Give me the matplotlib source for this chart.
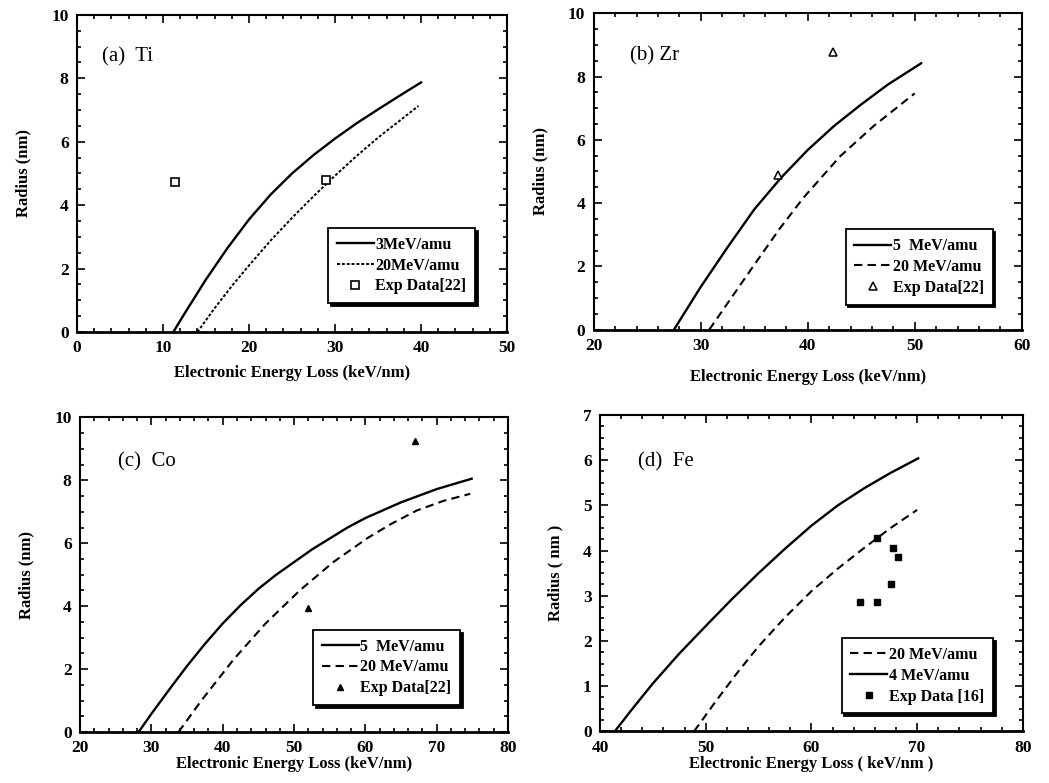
import matplotlib
matplotlib.use("Agg")
import matplotlib.pyplot as plt
from matplotlib.ticker import MultipleLocator, AutoMinorLocator

plt.rcParams['font.family'] = ['Liberation Serif', 'DejaVu Serif']
plt.rcParams['font.weight'] = 'bold'

# (a) Ti
ti_solid_x = [11.2, 12.5, 15, 17.5, 20, 22.5, 25, 27.5, 30, 32.5, 35, 37.5, 40]
ti_solid_y = [0, 0.58, 1.66, 2.65, 3.55, 4.33, 5.0, 5.58, 6.1, 6.58, 7.02, 7.45, 7.87]
ti_dot_x = [14, 16, 18, 20, 22.5, 25, 27.5, 30, 32.5, 35, 37.5, 39.7]
ti_dot_y = [0, 0.75, 1.45, 2.1, 2.88, 3.6, 4.28, 4.93, 5.55, 6.13, 6.66, 7.13]
ti_exp_x = [11.4, 28.9]
ti_exp_y = [4.73, 4.78]

# (b) Zr
zr_solid_x = [27.5, 30, 32.5, 35, 37.5, 40, 42.5, 45, 47.5, 50.6]
zr_solid_y = [0, 1.35, 2.6, 3.8, 4.8, 5.68, 6.45, 7.12, 7.75, 8.42]
zr_dash_x = [30.8, 32.5, 34.9, 37.4, 39.6, 43.0, 46.1, 50.0]
zr_dash_y = [0, 0.83, 2.0, 3.2, 4.17, 5.47, 6.42, 7.47]
zr_exp_x = [42.4, 37.2]
zr_exp_y = [8.79, 4.9]

# (c) Co
co_solid_x = [28.2, 30, 32.5, 35, 37.5, 40, 42.5, 45, 47.5, 50, 52.5, 55, 57.5, 60, 65, 70, 74.9]
co_solid_y = [0, 0.58, 1.35, 2.1, 2.8, 3.45, 4.03, 4.55, 5.0, 5.4, 5.8, 6.15, 6.5, 6.8, 7.3, 7.72, 8.05]
co_dash_x = [33.8, 37, 41.5, 46, 50.8, 55.5, 60.2, 63.5, 67.2, 71, 74.7]
co_dash_y = [0, 1.0, 2.3, 3.45, 4.5, 5.4, 6.15, 6.6, 7.04, 7.35, 7.57]
co_exp_x = [66.9, 52.0]
co_exp_y = [9.26, 3.93]

# (d) Fe
fe_solid_x = [41.4, 43, 45, 47.5, 50, 52.5, 55, 57.5, 60, 62.5, 65, 67.5, 70.1]
fe_solid_y = [0, 0.48, 1.06, 1.72, 2.33, 2.93, 3.5, 4.04, 4.55, 5.0, 5.38, 5.72, 6.04]
fe_dash_x = [48.9, 51, 53, 55, 57.5, 60, 62.5, 65, 67.5, 70]
fe_dash_y = [0, 0.68, 1.3, 1.88, 2.52, 3.1, 3.6, 4.06, 4.5, 4.9]
fe_exp_x = [66.2, 67.7, 68.2, 67.5, 64.6, 66.2]
fe_exp_y = [4.27, 4.05, 3.86, 3.27, 2.86, 2.86]

fig = plt.figure(figsize=(10.49, 7.83), dpi=100)

positions = [
    [0.0734, 0.576, 0.410, 0.405],
    [0.566, 0.579, 0.408, 0.404],
    [0.0763, 0.065, 0.408, 0.402],
    [0.572, 0.066, 0.403, 0.404],
]

bold = {'fontweight': 'bold', 'fontsize': 12}


def style_axes(ax, xlim, ylim, xmaj, ymaj, xlabel, ylabel, title, title_pos, xpad):
    ax.set_xlim(xlim)
    ax.set_ylim(ylim)
    ax.xaxis.set_major_locator(MultipleLocator(xmaj))
    ax.yaxis.set_major_locator(MultipleLocator(ymaj))
    ax.xaxis.set_minor_locator(AutoMinorLocator(5))
    ax.yaxis.set_minor_locator(AutoMinorLocator(4))
    ax.tick_params(which='both', direction='in', top=True, right=True, width=1.2)
    ax.tick_params(which='major', length=6, labelsize=12.5, pad=6)
    ax.tick_params(which='minor', length=3)
    for sp in ax.spines.values():
        sp.set_linewidth(1.5)
    ax.spines['bottom'].set_linewidth(2)
    ax.set_xlabel(xlabel, labelpad=xpad, **bold)
    ax.set_ylabel(ylabel, labelpad=14, **bold)
    ax.text(title_pos[0], title_pos[1], title, transform=ax.transAxes,
            fontsize=15, fontweight='normal', va='center')


def add_legend(ax, anchor):
    leg = ax.legend(loc='lower right', bbox_to_anchor=anchor, fancybox=False,
                    edgecolor='black', framealpha=1, handlelength=2.3,
                    handletextpad=0.1, borderpad=0.55, labelspacing=0.3,
                    borderaxespad=0,
                    prop={'weight': 'bold', 'size': 11.5},
                    shadow={'color': 'black', 'alpha': 1, 'ox': 2, 'oy': -2})
    leg.get_frame().set_linewidth(1.3)


# (a)
ax = fig.add_axes(positions[0])
ax.plot(ti_solid_x, ti_solid_y, 'k-', lw=1.7, label='3MeV/amu')
ax.plot(ti_dot_x, ti_dot_y, color='k', ls=(0, (1.5, 1)), lw=1.4, label='20MeV/amu')
ax.plot(ti_exp_x, ti_exp_y, 'ks', mfc='white', ms=5.5, mew=1.2, ls='none', label='Exp Data[22]')
style_axes(ax, (0, 50), (0, 10), 10, 2, 'Electronic Energy Loss (keV/nm)', 'Radius (nm)',
           '(a)  Ti', (0.058, 0.867), 6)
add_legend(ax, (0.926, 0.091))

# (b)
ax = fig.add_axes(positions[1])
ax.plot(zr_solid_x, zr_solid_y, 'k-', lw=1.7, label='5  MeV/amu')
ax.plot(zr_dash_x, zr_dash_y, color='k', ls=(0, (4, 2.5)), lw=1.5, label='20 MeV/amu')
ax.plot(zr_exp_x, zr_exp_y, 'k^', mfc='white', ms=6, mew=1.1, ls='none', label='Exp Data[22]')
style_axes(ax, (20, 60), (0, 10), 10, 2, 'Electronic Energy Loss (keV/nm)', 'Radius (nm)',
           '(b) Zr', (0.084, 0.867), 11)
add_legend(ax, (0.932, 0.079))

# (c)
ax = fig.add_axes(positions[2])
ax.plot(co_solid_x, co_solid_y, 'k-', lw=1.7, label='5  MeV/amu')
ax.plot(co_dash_x, co_dash_y, color='k', ls=(0, (4, 2.5)), lw=1.5, label='20 MeV/amu')
ax.plot(co_exp_x, co_exp_y, 'k^', ms=5, ls='none', label='Exp Data[22]')
style_axes(ax, (20, 80), (0, 10), 10, 2, 'Electronic Energy Loss (keV/nm)', 'Radius (nm)',
           '(c)  Co', (0.089, 0.857), 0)
add_legend(ax, (0.888, 0.086))

# (d)
ax = fig.add_axes(positions[3])
ax.plot(fe_dash_x, fe_dash_y, color='k', ls=(0, (4, 2.5)), lw=1.5, label='20 MeV/amu')
ax.plot(fe_solid_x, fe_solid_y, 'k-', lw=1.7, label='4 MeV/amu')
ax.plot(fe_exp_x, fe_exp_y, 'ks', ms=5, ls='none', label='Exp Data [16]')
style_axes(ax, (40, 80), (0, 7), 10, 1, 'Electronic Energy Loss ( keV/nm )', 'Radius ( nm )',
           '(d)  Fe', (0.09, 0.851), 0)
add_legend(ax, (0.929, 0.057))

fig.savefig('out.png', dpi=100)
